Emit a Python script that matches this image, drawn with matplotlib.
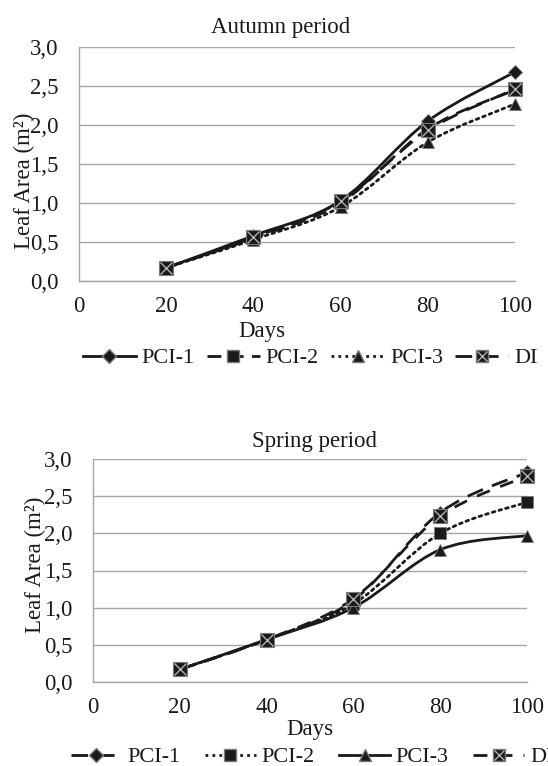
import numpy as np
import matplotlib
matplotlib.use("Agg")
import matplotlib.pyplot as plt
from matplotlib.path import Path
from matplotlib.patches import PathPatch
from matplotlib.lines import Line2D
from matplotlib.ticker import FuncFormatter

plt.rcParams["font.family"] = ["Liberation Serif", "DejaVu Serif"]

days = [20, 40, 60, 80, 100]
series_names = ["PCI-1", "PCI-2", "PCI-3", "DI"]

autumn_pci1 = [0.17, 0.58, 1.03, 2.05, 2.68]
autumn_pci2 = [0.17, 0.55, 1.00, 1.95, 2.45]
autumn_pci3 = [0.17, 0.53, 0.95, 1.78, 2.27]
autumn_di = [0.17, 0.56, 1.02, 1.93, 2.46]

spring_pci1 = [0.17, 0.57, 1.10, 2.28, 2.82]
spring_pci2 = [0.17, 0.57, 1.05, 2.00, 2.42]
spring_pci3 = [0.17, 0.57, 1.00, 1.78, 1.97]
spring_di = [0.17, 0.57, 1.12, 2.23, 2.77]

x_ticks = [0, 20, 40, 60, 80, 100]
y_ticks = [0.0, 0.5, 1.0, 1.5, 2.0, 2.5, 3.0]

W, H = 548, 766
INK = "#1a1a1a"
GRID = "#a6a6a6"
DOT = (0, (1, 1.5))
FS = 16.5


def smooth_path(x, y):
    """Excel-like smoothed line as cubic bezier through the points"""
    p = np.column_stack([x, y]).astype(float)
    ext = np.vstack([p[0], p, p[-1]])
    verts = [p[0]]
    codes = [Path.MOVETO]
    for i in range(len(p) - 1):
        p0, p1, p2, p3 = ext[i], ext[i + 1], ext[i + 2], ext[i + 3]
        verts += [p1 + (p2 - p0) / 6, p2 - (p3 - p1) / 6, p2]
        codes += [Path.CURVE4] * 3
    return Path(verts, codes)


def line_style(st):
    if st["ls"] == "solid":
        return "-"
    if st["ls"] == "dotted":
        return DOT
    return (0, st["ls"])


def draw_series(ax, y, st):
    line = PathPatch(smooth_path(days, y), fill=False, edgecolor=INK,
                     linewidth=2.0, linestyle=line_style(st),
                     transform=ax.transData, clip_on=False,
                     capstyle="round" if st["ls"] == "dotted" else "butt", zorder=3)
    ax.add_patch(line)
    mk = st["marker"]
    if mk == "boxx":
        ax.plot(days, y, ls="none", marker="s", ms=10, mfc=INK, mec="#7a7a7a",
                mew=0.8, clip_on=False, zorder=4)
        ax.plot(days, y, ls="none", marker="x", ms=8.5, mec="#b0b0b0",
                mew=1.0, clip_on=False, zorder=5)
    else:
        ax.plot(days, y, ls="none", marker=mk, ms=st["ms"], mfc=INK,
                mec="#7a7a7a", mew=0.6, clip_on=False, zorder=4)


def legend_handles(styles):
    handles = []
    for st in styles:
        if st["marker"] == "boxx":
            base = Line2D([0], [0], color=INK, lw=2.0, ls=line_style(st),
                          marker="s", ms=8, mfc=INK, mec="#7a7a7a")
            cross = Line2D([0], [0], ls="none", marker="x", ms=6.5,
                           mec="#b0b0b0", mew=1.0)
            handles.append((base, cross))
        else:
            handles.append(Line2D([0], [0], color=INK, lw=2.0, ls=line_style(st),
                                  marker=st["marker"], ms=st["ms"],
                                  mfc=INK, mec="#7a7a7a"))
    return handles


def px_axes(left, right, top, bottom):
    return [left / W, 1 - bottom / H, (right - left) / W, (bottom - top) / H]


def setup_axes(ax):
    ax.set_xlim(0, 100)
    ax.set_ylim(0, 3.0)
    ax.set_xticks(x_ticks)
    ax.set_yticks(y_ticks)
    ax.yaxis.set_major_formatter(FuncFormatter(lambda v, _: f"{v:.1f}".replace(".", ",")))
    ax.grid(axis="y", color=GRID, linewidth=1.0)
    ax.set_axisbelow(True)
    for s in ["top", "right"]:
        ax.spines[s].set_visible(False)
    for s in ["left", "bottom"]:
        ax.spines[s].set_color(GRID)
        ax.spines[s].set_linewidth(1.0)
    ax.tick_params(length=0, labelsize=FS, colors=INK)
    ax.tick_params(axis="y", pad=15)
    ax.tick_params(axis="x", pad=11)


def fig_text(x, y, s, **kw):
    fig.text(x / W, 1 - y / H, s, ha="center", va="center", color=INK,
             fontsize=FS, **kw)


fig = plt.figure(figsize=(W / 100, H / 100), dpi=100)

# autumn
ax1 = fig.add_axes(px_axes(79, 515, 47, 281))
setup_axes(ax1)
autumn_styles = [
    {"ls": "solid", "marker": "D", "ms": 7},
    {"ls": (5, 3), "marker": "s", "ms": 8},
    {"ls": "dotted", "marker": "^", "ms": 8},
    {"ls": (6, 3.5), "marker": "boxx", "ms": 10},
]
for y, st in zip([autumn_pci1, autumn_pci2, autumn_pci3, autumn_di], autumn_styles):
    draw_series(ax1, y, st)
fig_text(281, 27, "Autumn period")
fig_text(24, 181, "Leaf Area (m²)", rotation=90)
fig_text(262, 331, "Days")
fig.legend(legend_handles(autumn_styles), series_names, loc="center",
           bbox_to_anchor=(310 / W, 1 - 358 / H), ncol=4, frameon=False,
           fontsize=16, handlelength=2.4, handletextpad=0.25, columnspacing=0.55,
           labelcolor=INK, borderpad=0)

# spring
ax2 = fig.add_axes(px_axes(93, 527, 459, 682))
setup_axes(ax2)
spring_styles = [
    {"ls": (6, 3.5), "marker": "D", "ms": 7},
    {"ls": "dotted", "marker": "s", "ms": 8},
    {"ls": "solid", "marker": "^", "ms": 8},
    {"ls": (5, 4), "marker": "boxx", "ms": 10},
]
for y, st in zip([spring_pci1, spring_pci2, spring_pci3, spring_di], spring_styles):
    draw_series(ax2, y, st)
fig_text(315, 441, "Spring period")
fig_text(35, 565, "Leaf Area (m²)", rotation=90)
fig_text(310, 730, "Days")
fig.legend(legend_handles(spring_styles), series_names, loc="center",
           bbox_to_anchor=(312 / W, 1 - 757 / H), ncol=4, frameon=False,
           fontsize=16, handlelength=2.3, handletextpad=0.25, columnspacing=1.1,
           labelcolor=INK, borderpad=0)

fig.savefig("out.png", dpi=100)
